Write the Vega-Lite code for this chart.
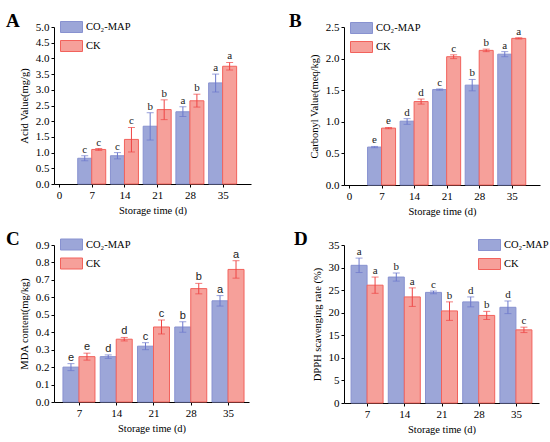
{
  "$schema": "https://vega.github.io/schema/vega-lite/v6.json",
  "padding": {"left": 6, "top": 12, "right": 5, "bottom": 5},
  "background": "white",
  "datasets": {
    "A": [
      {"day": 7, "group": "CO₂-MAP", "value": 0.82, "lo": 0.74, "hi": 0.90, "sig": "c"},
      {"day": 7, "group": "CK", "value": 1.10, "lo": 1.07, "hi": 1.13, "sig": "c"},
      {"day": 14, "group": "CO₂-MAP", "value": 0.90, "lo": 0.80, "hi": 1.00, "sig": "c"},
      {"day": 14, "group": "CK", "value": 1.42, "lo": 1.02, "hi": 1.80, "sig": "c"},
      {"day": 21, "group": "CO₂-MAP", "value": 1.84, "lo": 1.40, "hi": 2.27, "sig": "b"},
      {"day": 21, "group": "CK", "value": 2.37, "lo": 2.05, "hi": 2.68, "sig": "b"},
      {"day": 28, "group": "CO₂-MAP", "value": 2.30, "lo": 2.15, "hi": 2.46, "sig": "a"},
      {"day": 28, "group": "CK", "value": 2.65, "lo": 2.45, "hi": 2.86, "sig": "b"},
      {"day": 35, "group": "CO₂-MAP", "value": 3.22, "lo": 2.93, "hi": 3.50, "sig": "a"},
      {"day": 35, "group": "CK", "value": 3.75, "lo": 3.63, "hi": 3.87, "sig": "a"}
    ],
    "B": [
      {"day": 7, "group": "CO₂-MAP", "value": 0.60, "lo": 0.59, "hi": 0.61, "sig": "e"},
      {"day": 7, "group": "CK", "value": 0.90, "lo": 0.89, "hi": 0.91, "sig": "e"},
      {"day": 14, "group": "CO₂-MAP", "value": 1.01, "lo": 0.96, "hi": 1.05, "sig": "d"},
      {"day": 14, "group": "CK", "value": 1.32, "lo": 1.28, "hi": 1.36, "sig": "d"},
      {"day": 21, "group": "CO₂-MAP", "value": 1.51, "lo": 1.50, "hi": 1.52, "sig": "c"},
      {"day": 21, "group": "CK", "value": 2.03, "lo": 2.00, "hi": 2.06, "sig": "c"},
      {"day": 28, "group": "CO₂-MAP", "value": 1.58, "lo": 1.49, "hi": 1.67, "sig": "b"},
      {"day": 28, "group": "CK", "value": 2.13, "lo": 2.11, "hi": 2.15, "sig": "b"},
      {"day": 35, "group": "CO₂-MAP", "value": 2.07, "lo": 2.03, "hi": 2.11, "sig": "a"},
      {"day": 35, "group": "CK", "value": 2.32, "lo": 2.31, "hi": 2.33, "sig": "a"}
    ],
    "C": [
      {"day": 7, "group": "CO₂-MAP", "value": 0.20, "lo": 0.18, "hi": 0.22, "sig": "e"},
      {"day": 7, "group": "CK", "value": 0.26, "lo": 0.24, "hi": 0.28, "sig": "e"},
      {"day": 14, "group": "CO₂-MAP", "value": 0.26, "lo": 0.25, "hi": 0.27, "sig": "d"},
      {"day": 14, "group": "CK", "value": 0.36, "lo": 0.35, "hi": 0.37, "sig": "d"},
      {"day": 21, "group": "CO₂-MAP", "value": 0.32, "lo": 0.30, "hi": 0.34, "sig": "c"},
      {"day": 21, "group": "CK", "value": 0.43, "lo": 0.39, "hi": 0.47, "sig": "c"},
      {"day": 28, "group": "CO₂-MAP", "value": 0.43, "lo": 0.40, "hi": 0.46, "sig": "b"},
      {"day": 28, "group": "CK", "value": 0.65, "lo": 0.62, "hi": 0.68, "sig": "b"},
      {"day": 35, "group": "CO₂-MAP", "value": 0.58, "lo": 0.55, "hi": 0.61, "sig": "a"},
      {"day": 35, "group": "CK", "value": 0.76, "lo": 0.71, "hi": 0.81, "sig": "a"}
    ],
    "D": [
      {"day": 7, "group": "CO₂-MAP", "value": 30.5, "lo": 28.9, "hi": 32.1, "sig": "a"},
      {"day": 7, "group": "CK", "value": 26.1, "lo": 24.3, "hi": 27.9, "sig": "a"},
      {"day": 14, "group": "CO₂-MAP", "value": 27.9, "lo": 27.0, "hi": 28.8, "sig": "b"},
      {"day": 14, "group": "CK", "value": 23.5, "lo": 21.4, "hi": 25.5, "sig": "a"},
      {"day": 21, "group": "CO₂-MAP", "value": 24.5, "lo": 24.2, "hi": 24.8, "sig": "c"},
      {"day": 21, "group": "CK", "value": 20.4, "lo": 18.3, "hi": 22.4, "sig": "b"},
      {"day": 28, "group": "CO₂-MAP", "value": 22.4, "lo": 21.3, "hi": 23.5, "sig": "d"},
      {"day": 28, "group": "CK", "value": 19.4, "lo": 18.5, "hi": 20.3, "sig": "b"},
      {"day": 35, "group": "CO₂-MAP", "value": 21.2, "lo": 19.8, "hi": 22.6, "sig": "d"},
      {"day": 35, "group": "CK", "value": 16.2, "lo": 15.6, "hi": 16.8, "sig": "c"}
    ]
  },
  "columns": 2,
  "spacing": {"row": 60, "column": 93},
  "bounds": "flush",
  "resolve": {"scale": {"fill": "independent", "stroke": "independent", "x": "independent", "y": "independent"}, "legend": {"fill": "independent", "stroke": "independent"}},
  "concat": [
    {
      "width": 197, "height": 157,
      "title": {"text": "A", "dx": -48, "dy": 14},
      "data": {"name": "A"},
      "encoding": {"x": {"field": "day", "type": "quantitative", "title": "Storage time (d)", "scale": {"domain": [0, 40], "nice": false, "zero": false}, "axis": {"values": [0, 7, 14, 21, 28, 35], "labelFont": "Liberation Serif", "labelFontSize": 11, "titleFont": "Liberation Serif", "titleFontSize": 10.5, "titleFontWeight": "normal", "titlePadding": 5, "labelPadding": 2, "tickSize": 3}}},
      "layer": [
        {"transform": [{"filter": "datum.group === 'CO₂-MAP'"}], "mark": {"type": "bar", "width": 14, "xOffset": -7, "strokeWidth": 1},
         "encoding": {
           "y": {"field": "value", "type": "quantitative", "title": "Acid Value(mg/g)", "stack": null, "scale": {"domain": [0, 5], "nice": false}, "axis": {"values": [0, 0.5, 1, 1.5, 2, 2.5, 3, 3.5, 4, 4.5, 5], "format": ".1f", "labelFont": "Liberation Serif", "labelFontSize": 11, "titleFont": "Liberation Serif", "titleFontSize": 10.5, "titleFontWeight": "normal", "titlePadding": 6, "labelPadding": 2, "tickSize": 3}},
           "fill": {"field": "group", "type": "nominal", "scale": {"domain": ["CO₂-MAP", "CK"], "range": ["#9ca6d8", "#f6a09a"]}, "legend": {"title": null, "orient": "none", "legendX": 11.5, "legendY": -6}},
           "stroke": {"field": "group", "type": "nominal", "scale": {"domain": ["CO₂-MAP", "CK"], "range": ["#8892d0", "#f2625c"]}, "legend": {"title": null, "orient": "none", "legendX": 11.5, "legendY": -6}}}},
        {"transform": [{"filter": "datum.group === 'CK'"}], "mark": {"type": "bar", "width": 14, "xOffset": 7, "strokeWidth": 1},
         "encoding": {
           "y": {"field": "value", "type": "quantitative", "title": "Acid Value(mg/g)", "stack": null, "scale": {"domain": [0, 5], "nice": false}, "axis": {"values": [0, 0.5, 1, 1.5, 2, 2.5, 3, 3.5, 4, 4.5, 5], "format": ".1f", "labelFont": "Liberation Serif", "labelFontSize": 11, "titleFont": "Liberation Serif", "titleFontSize": 10.5, "titleFontWeight": "normal", "titlePadding": 6, "labelPadding": 2, "tickSize": 3}},
           "fill": {"field": "group", "type": "nominal"},
           "stroke": {"field": "group", "type": "nominal"}}},
        {"transform": [{"filter": "datum.group === 'CO₂-MAP'"}], "mark": {"type": "rule", "xOffset": -7, "color": "#6c78cc"},
         "encoding": {"y": {"field": "lo", "type": "quantitative", "title": "Acid Value(mg/g)", "scale": {"domain": [0, 5], "nice": false}, "axis": {"values": [0, 0.5, 1, 1.5, 2, 2.5, 3, 3.5, 4, 4.5, 5], "format": ".1f", "labelFont": "Liberation Serif", "labelFontSize": 11, "titleFont": "Liberation Serif", "titleFontSize": 10.5, "titleFontWeight": "normal", "titlePadding": 6, "labelPadding": 2, "tickSize": 3}}, "y2": {"field": "hi"}}},
        {"transform": [{"filter": "datum.group === 'CK'"}], "mark": {"type": "rule", "xOffset": 7, "color": "#ee4444"},
         "encoding": {"y": {"field": "lo", "type": "quantitative", "title": "Acid Value(mg/g)", "scale": {"domain": [0, 5], "nice": false}, "axis": {"values": [0, 0.5, 1, 1.5, 2, 2.5, 3, 3.5, 4, 4.5, 5], "format": ".1f", "labelFont": "Liberation Serif", "labelFontSize": 11, "titleFont": "Liberation Serif", "titleFontSize": 10.5, "titleFontWeight": "normal", "titlePadding": 6, "labelPadding": 2, "tickSize": 3}}, "y2": {"field": "hi"}}},
        {"transform": [{"filter": "datum.group === 'CO₂-MAP'"}, {"fold": ["lo", "hi"], "as": ["k", "v"]}], "mark": {"type": "tick", "orient": "horizontal", "xOffset": -7, "size": 7, "thickness": 1, "color": "#6c78cc"},
         "encoding": {"y": {"field": "v", "type": "quantitative", "title": "Acid Value(mg/g)", "scale": {"domain": [0, 5], "nice": false}, "axis": {"values": [0, 0.5, 1, 1.5, 2, 2.5, 3, 3.5, 4, 4.5, 5], "format": ".1f", "labelFont": "Liberation Serif", "labelFontSize": 11, "titleFont": "Liberation Serif", "titleFontSize": 10.5, "titleFontWeight": "normal", "titlePadding": 6, "labelPadding": 2, "tickSize": 3}}}},
        {"transform": [{"filter": "datum.group === 'CK'"}, {"fold": ["lo", "hi"], "as": ["k", "v"]}], "mark": {"type": "tick", "orient": "horizontal", "xOffset": 7, "size": 7, "thickness": 1, "color": "#ee4444"},
         "encoding": {"y": {"field": "v", "type": "quantitative", "title": "Acid Value(mg/g)", "scale": {"domain": [0, 5], "nice": false}, "axis": {"values": [0, 0.5, 1, 1.5, 2, 2.5, 3, 3.5, 4, 4.5, 5], "format": ".1f", "labelFont": "Liberation Serif", "labelFontSize": 11, "titleFont": "Liberation Serif", "titleFontSize": 10.5, "titleFontWeight": "normal", "titlePadding": 6, "labelPadding": 2, "tickSize": 3}}}},
        {"transform": [{"filter": "datum.group === 'CO₂-MAP'"}], "mark": {"type": "text", "xOffset": -7, "dy": -3, "baseline": "alphabetic", "font": "Liberation Serif", "fontSize": 11, "color": "#222"},
         "encoding": {"y": {"field": "hi", "type": "quantitative", "title": "Acid Value(mg/g)", "scale": {"domain": [0, 5], "nice": false}, "axis": {"values": [0, 0.5, 1, 1.5, 2, 2.5, 3, 3.5, 4, 4.5, 5], "format": ".1f", "labelFont": "Liberation Serif", "labelFontSize": 11, "titleFont": "Liberation Serif", "titleFontSize": 10.5, "titleFontWeight": "normal", "titlePadding": 6, "labelPadding": 2, "tickSize": 3}}, "text": {"field": "sig"}}},
        {"transform": [{"filter": "datum.group === 'CK'"}], "mark": {"type": "text", "xOffset": 7, "dy": -3, "baseline": "alphabetic", "font": "Liberation Serif", "fontSize": 11, "color": "#222"},
         "encoding": {"y": {"field": "hi", "type": "quantitative", "title": "Acid Value(mg/g)", "scale": {"domain": [0, 5], "nice": false}, "axis": {"values": [0, 0.5, 1, 1.5, 2, 2.5, 3, 3.5, 4, 4.5, 5], "format": ".1f", "labelFont": "Liberation Serif", "labelFontSize": 11, "titleFont": "Liberation Serif", "titleFontSize": 10.5, "titleFontWeight": "normal", "titlePadding": 6, "labelPadding": 2, "tickSize": 3}}, "text": {"field": "sig"}}}
      ]
    },
    {
      "width": 196, "height": 158,
      "title": {"text": "B", "dx": -55, "dy": 14},
      "data": {"name": "B"},
      "encoding": {"x": {"field": "day", "type": "quantitative", "title": "Storage time (d)", "scale": {"domain": [0, 40], "nice": false, "zero": false}, "axis": {"values": [0, 7, 14, 21, 28, 35], "labelFont": "Liberation Serif", "labelFontSize": 11, "titleFont": "Liberation Serif", "titleFontSize": 10.5, "titleFontWeight": "normal", "titlePadding": 5, "labelPadding": 2, "tickSize": 3}}},
      "layer": [
        {"transform": [{"filter": "datum.group === 'CO₂-MAP'"}], "mark": {"type": "bar", "width": 14, "xOffset": -7, "strokeWidth": 1},
         "encoding": {
           "y": {"field": "value", "type": "quantitative", "title": "Carbonyl Value(meq/kg)", "stack": null, "scale": {"domain": [0, 2.5], "nice": false}, "axis": {"values": [0, 0.5, 1, 1.5, 2, 2.5], "format": ".1f", "labelFont": "Liberation Serif", "labelFontSize": 11, "titleFont": "Liberation Serif", "titleFontSize": 10.5, "titleFontWeight": "normal", "titlePadding": 6, "labelPadding": 2, "tickSize": 3}},
           "fill": {"field": "group", "type": "nominal", "scale": {"domain": ["CO₂-MAP", "CK"], "range": ["#9ca6d8", "#f6a09a"]}, "legend": {"title": null, "orient": "none", "legendX": 11.5, "legendY": -5}},
           "stroke": {"field": "group", "type": "nominal", "scale": {"domain": ["CO₂-MAP", "CK"], "range": ["#8892d0", "#f2625c"]}, "legend": {"title": null, "orient": "none", "legendX": 11.5, "legendY": -5}}}},
        {"transform": [{"filter": "datum.group === 'CK'"}], "mark": {"type": "bar", "width": 14, "xOffset": 7, "strokeWidth": 1},
         "encoding": {
           "y": {"field": "value", "type": "quantitative", "title": "Carbonyl Value(meq/kg)", "stack": null, "scale": {"domain": [0, 2.5], "nice": false}, "axis": {"values": [0, 0.5, 1, 1.5, 2, 2.5], "format": ".1f", "labelFont": "Liberation Serif", "labelFontSize": 11, "titleFont": "Liberation Serif", "titleFontSize": 10.5, "titleFontWeight": "normal", "titlePadding": 6, "labelPadding": 2, "tickSize": 3}},
           "fill": {"field": "group", "type": "nominal"},
           "stroke": {"field": "group", "type": "nominal"}}},
        {"transform": [{"filter": "datum.group === 'CO₂-MAP'"}], "mark": {"type": "rule", "xOffset": -7, "color": "#6c78cc"},
         "encoding": {"y": {"field": "lo", "type": "quantitative", "title": "Carbonyl Value(meq/kg)", "scale": {"domain": [0, 2.5], "nice": false}, "axis": {"values": [0, 0.5, 1, 1.5, 2, 2.5], "format": ".1f", "labelFont": "Liberation Serif", "labelFontSize": 11, "titleFont": "Liberation Serif", "titleFontSize": 10.5, "titleFontWeight": "normal", "titlePadding": 6, "labelPadding": 2, "tickSize": 3}}, "y2": {"field": "hi"}}},
        {"transform": [{"filter": "datum.group === 'CK'"}], "mark": {"type": "rule", "xOffset": 7, "color": "#ee4444"},
         "encoding": {"y": {"field": "lo", "type": "quantitative", "title": "Carbonyl Value(meq/kg)", "scale": {"domain": [0, 2.5], "nice": false}, "axis": {"values": [0, 0.5, 1, 1.5, 2, 2.5], "format": ".1f", "labelFont": "Liberation Serif", "labelFontSize": 11, "titleFont": "Liberation Serif", "titleFontSize": 10.5, "titleFontWeight": "normal", "titlePadding": 6, "labelPadding": 2, "tickSize": 3}}, "y2": {"field": "hi"}}},
        {"transform": [{"filter": "datum.group === 'CO₂-MAP'"}, {"fold": ["lo", "hi"], "as": ["k", "v"]}], "mark": {"type": "tick", "orient": "horizontal", "xOffset": -7, "size": 7, "thickness": 1, "color": "#6c78cc"},
         "encoding": {"y": {"field": "v", "type": "quantitative", "title": "Carbonyl Value(meq/kg)", "scale": {"domain": [0, 2.5], "nice": false}, "axis": {"values": [0, 0.5, 1, 1.5, 2, 2.5], "format": ".1f", "labelFont": "Liberation Serif", "labelFontSize": 11, "titleFont": "Liberation Serif", "titleFontSize": 10.5, "titleFontWeight": "normal", "titlePadding": 6, "labelPadding": 2, "tickSize": 3}}}},
        {"transform": [{"filter": "datum.group === 'CK'"}, {"fold": ["lo", "hi"], "as": ["k", "v"]}], "mark": {"type": "tick", "orient": "horizontal", "xOffset": 7, "size": 7, "thickness": 1, "color": "#ee4444"},
         "encoding": {"y": {"field": "v", "type": "quantitative", "title": "Carbonyl Value(meq/kg)", "scale": {"domain": [0, 2.5], "nice": false}, "axis": {"values": [0, 0.5, 1, 1.5, 2, 2.5], "format": ".1f", "labelFont": "Liberation Serif", "labelFontSize": 11, "titleFont": "Liberation Serif", "titleFontSize": 10.5, "titleFontWeight": "normal", "titlePadding": 6, "labelPadding": 2, "tickSize": 3}}}},
        {"transform": [{"filter": "datum.group === 'CO₂-MAP'"}], "mark": {"type": "text", "xOffset": -7, "dy": -3, "baseline": "alphabetic", "font": "Liberation Serif", "fontSize": 11, "color": "#222"},
         "encoding": {"y": {"field": "hi", "type": "quantitative", "title": "Carbonyl Value(meq/kg)", "scale": {"domain": [0, 2.5], "nice": false}, "axis": {"values": [0, 0.5, 1, 1.5, 2, 2.5], "format": ".1f", "labelFont": "Liberation Serif", "labelFontSize": 11, "titleFont": "Liberation Serif", "titleFontSize": 10.5, "titleFontWeight": "normal", "titlePadding": 6, "labelPadding": 2, "tickSize": 3}}, "text": {"field": "sig"}}},
        {"transform": [{"filter": "datum.group === 'CK'"}], "mark": {"type": "text", "xOffset": 7, "dy": -3, "baseline": "alphabetic", "font": "Liberation Serif", "fontSize": 11, "color": "#222"},
         "encoding": {"y": {"field": "hi", "type": "quantitative", "title": "Carbonyl Value(meq/kg)", "scale": {"domain": [0, 2.5], "nice": false}, "axis": {"values": [0, 0.5, 1, 1.5, 2, 2.5], "format": ".1f", "labelFont": "Liberation Serif", "labelFontSize": 11, "titleFont": "Liberation Serif", "titleFontSize": 10.5, "titleFontWeight": "normal", "titlePadding": 6, "labelPadding": 2, "tickSize": 3}}, "text": {"field": "sig"}}}
      ]
    },
    {
      "width": 195, "height": 157,
      "title": {"text": "C", "dx": -48, "dy": 14},
      "data": {"name": "C"},
      "encoding": {"x": {"field": "day", "type": "quantitative", "title": "Storage time (d)", "scale": {"domain": [3.25, 38], "nice": false, "zero": false}, "axis": {"values": [7, 14, 21, 28, 35], "labelFont": "Liberation Serif", "labelFontSize": 11, "titleFont": "Liberation Serif", "titleFontSize": 10.5, "titleFontWeight": "normal", "titlePadding": 5, "labelPadding": 2, "tickSize": 3}}},
      "layer": [
        {"transform": [{"filter": "datum.group === 'CO₂-MAP'"}], "mark": {"type": "bar", "width": 16, "xOffset": -8, "strokeWidth": 1},
         "encoding": {
           "y": {"field": "value", "type": "quantitative", "title": "MDA content(mg/kg)", "stack": null, "scale": {"domain": [0, 0.9], "nice": false}, "axis": {"values": [0, 0.1, 0.2, 0.3, 0.4, 0.5, 0.6, 0.7, 0.8, 0.9], "format": ".1f", "labelFont": "Liberation Serif", "labelFontSize": 11, "titleFont": "Liberation Serif", "titleFontSize": 10.5, "titleFontWeight": "normal", "titlePadding": 6, "labelPadding": 2, "tickSize": 3}},
           "fill": {"field": "group", "type": "nominal", "scale": {"domain": ["CO₂-MAP", "CK"], "range": ["#9ca6d8", "#f6a09a"]}, "legend": {"title": null, "orient": "none", "legendX": 11.5, "legendY": -6.5}},
           "stroke": {"field": "group", "type": "nominal", "scale": {"domain": ["CO₂-MAP", "CK"], "range": ["#8892d0", "#f2625c"]}, "legend": {"title": null, "orient": "none", "legendX": 11.5, "legendY": -6.5}}}},
        {"transform": [{"filter": "datum.group === 'CK'"}], "mark": {"type": "bar", "width": 16, "xOffset": 8, "strokeWidth": 1},
         "encoding": {
           "y": {"field": "value", "type": "quantitative", "title": "MDA content(mg/kg)", "stack": null, "scale": {"domain": [0, 0.9], "nice": false}, "axis": {"values": [0, 0.1, 0.2, 0.3, 0.4, 0.5, 0.6, 0.7, 0.8, 0.9], "format": ".1f", "labelFont": "Liberation Serif", "labelFontSize": 11, "titleFont": "Liberation Serif", "titleFontSize": 10.5, "titleFontWeight": "normal", "titlePadding": 6, "labelPadding": 2, "tickSize": 3}},
           "fill": {"field": "group", "type": "nominal"},
           "stroke": {"field": "group", "type": "nominal"}}},
        {"transform": [{"filter": "datum.group === 'CO₂-MAP'"}], "mark": {"type": "rule", "xOffset": -8, "color": "#6c78cc"},
         "encoding": {"y": {"field": "lo", "type": "quantitative", "title": "MDA content(mg/kg)", "scale": {"domain": [0, 0.9], "nice": false}, "axis": {"values": [0, 0.1, 0.2, 0.3, 0.4, 0.5, 0.6, 0.7, 0.8, 0.9], "format": ".1f", "labelFont": "Liberation Serif", "labelFontSize": 11, "titleFont": "Liberation Serif", "titleFontSize": 10.5, "titleFontWeight": "normal", "titlePadding": 6, "labelPadding": 2, "tickSize": 3}}, "y2": {"field": "hi"}}},
        {"transform": [{"filter": "datum.group === 'CK'"}], "mark": {"type": "rule", "xOffset": 8, "color": "#ee4444"},
         "encoding": {"y": {"field": "lo", "type": "quantitative", "title": "MDA content(mg/kg)", "scale": {"domain": [0, 0.9], "nice": false}, "axis": {"values": [0, 0.1, 0.2, 0.3, 0.4, 0.5, 0.6, 0.7, 0.8, 0.9], "format": ".1f", "labelFont": "Liberation Serif", "labelFontSize": 11, "titleFont": "Liberation Serif", "titleFontSize": 10.5, "titleFontWeight": "normal", "titlePadding": 6, "labelPadding": 2, "tickSize": 3}}, "y2": {"field": "hi"}}},
        {"transform": [{"filter": "datum.group === 'CO₂-MAP'"}, {"fold": ["lo", "hi"], "as": ["k", "v"]}], "mark": {"type": "tick", "orient": "horizontal", "xOffset": -8, "size": 7, "thickness": 1, "color": "#6c78cc"},
         "encoding": {"y": {"field": "v", "type": "quantitative", "title": "MDA content(mg/kg)", "scale": {"domain": [0, 0.9], "nice": false}, "axis": {"values": [0, 0.1, 0.2, 0.3, 0.4, 0.5, 0.6, 0.7, 0.8, 0.9], "format": ".1f", "labelFont": "Liberation Serif", "labelFontSize": 11, "titleFont": "Liberation Serif", "titleFontSize": 10.5, "titleFontWeight": "normal", "titlePadding": 6, "labelPadding": 2, "tickSize": 3}}}},
        {"transform": [{"filter": "datum.group === 'CK'"}, {"fold": ["lo", "hi"], "as": ["k", "v"]}], "mark": {"type": "tick", "orient": "horizontal", "xOffset": 8, "size": 7, "thickness": 1, "color": "#ee4444"},
         "encoding": {"y": {"field": "v", "type": "quantitative", "title": "MDA content(mg/kg)", "scale": {"domain": [0, 0.9], "nice": false}, "axis": {"values": [0, 0.1, 0.2, 0.3, 0.4, 0.5, 0.6, 0.7, 0.8, 0.9], "format": ".1f", "labelFont": "Liberation Serif", "labelFontSize": 11, "titleFont": "Liberation Serif", "titleFontSize": 10.5, "titleFontWeight": "normal", "titlePadding": 6, "labelPadding": 2, "tickSize": 3}}}},
        {"transform": [{"filter": "datum.group === 'CO₂-MAP'"}], "mark": {"type": "text", "xOffset": -8, "dy": -3, "baseline": "alphabetic", "font": "Liberation Sans", "fontSize": 11, "color": "#222"},
         "encoding": {"y": {"field": "hi", "type": "quantitative", "title": "MDA content(mg/kg)", "scale": {"domain": [0, 0.9], "nice": false}, "axis": {"values": [0, 0.1, 0.2, 0.3, 0.4, 0.5, 0.6, 0.7, 0.8, 0.9], "format": ".1f", "labelFont": "Liberation Serif", "labelFontSize": 11, "titleFont": "Liberation Serif", "titleFontSize": 10.5, "titleFontWeight": "normal", "titlePadding": 6, "labelPadding": 2, "tickSize": 3}}, "text": {"field": "sig"}}},
        {"transform": [{"filter": "datum.group === 'CK'"}], "mark": {"type": "text", "xOffset": 8, "dy": -3, "baseline": "alphabetic", "font": "Liberation Sans", "fontSize": 11, "color": "#222"},
         "encoding": {"y": {"field": "hi", "type": "quantitative", "title": "MDA content(mg/kg)", "scale": {"domain": [0, 0.9], "nice": false}, "axis": {"values": [0, 0.1, 0.2, 0.3, 0.4, 0.5, 0.6, 0.7, 0.8, 0.9], "format": ".1f", "labelFont": "Liberation Serif", "labelFontSize": 11, "titleFont": "Liberation Serif", "titleFontSize": 10.5, "titleFontWeight": "normal", "titlePadding": 6, "labelPadding": 2, "tickSize": 3}}, "text": {"field": "sig"}}}
      ]
    },
    {
      "width": 195, "height": 158,
      "title": {"text": "D", "dx": -50, "dy": 14},
      "data": {"name": "D"},
      "encoding": {"x": {"field": "day", "type": "quantitative", "title": "Storage time (d)", "scale": {"domain": [3.6, 38.4], "nice": false, "zero": false}, "axis": {"values": [7, 14, 21, 28, 35], "labelFont": "Liberation Serif", "labelFontSize": 11, "titleFont": "Liberation Serif", "titleFontSize": 10.5, "titleFontWeight": "normal", "titlePadding": 5, "labelPadding": 2, "tickSize": 3}}},
      "layer": [
        {"transform": [{"filter": "datum.group === 'CO₂-MAP'"}], "mark": {"type": "bar", "width": 16, "xOffset": -8, "strokeWidth": 1},
         "encoding": {
           "y": {"field": "value", "type": "quantitative", "title": "DPPH scavenging rate (%)", "stack": null, "scale": {"domain": [0, 35], "nice": false}, "axis": {"values": [0, 5, 10, 15, 20, 25, 30, 35], "labelFont": "Liberation Serif", "labelFontSize": 11, "titleFont": "Liberation Serif", "titleFontSize": 10.5, "titleFontWeight": "normal", "titlePadding": 6, "labelPadding": 2, "tickSize": 3}},
           "fill": {"field": "group", "type": "nominal", "scale": {"domain": ["CO₂-MAP", "CK"], "range": ["#9ca6d8", "#f6a09a"]}, "legend": {"title": null, "orient": "none", "legendX": 139.5, "legendY": -6}},
           "stroke": {"field": "group", "type": "nominal", "scale": {"domain": ["CO₂-MAP", "CK"], "range": ["#8892d0", "#f2625c"]}, "legend": {"title": null, "orient": "none", "legendX": 139.5, "legendY": -6}}}},
        {"transform": [{"filter": "datum.group === 'CK'"}], "mark": {"type": "bar", "width": 16, "xOffset": 8, "strokeWidth": 1},
         "encoding": {
           "y": {"field": "value", "type": "quantitative", "title": "DPPH scavenging rate (%)", "stack": null, "scale": {"domain": [0, 35], "nice": false}, "axis": {"values": [0, 5, 10, 15, 20, 25, 30, 35], "labelFont": "Liberation Serif", "labelFontSize": 11, "titleFont": "Liberation Serif", "titleFontSize": 10.5, "titleFontWeight": "normal", "titlePadding": 6, "labelPadding": 2, "tickSize": 3}},
           "fill": {"field": "group", "type": "nominal"},
           "stroke": {"field": "group", "type": "nominal"}}},
        {"transform": [{"filter": "datum.group === 'CO₂-MAP'"}], "mark": {"type": "rule", "xOffset": -8, "color": "#6c78cc"},
         "encoding": {"y": {"field": "lo", "type": "quantitative", "title": "DPPH scavenging rate (%)", "scale": {"domain": [0, 35], "nice": false}, "axis": {"values": [0, 5, 10, 15, 20, 25, 30, 35], "labelFont": "Liberation Serif", "labelFontSize": 11, "titleFont": "Liberation Serif", "titleFontSize": 10.5, "titleFontWeight": "normal", "titlePadding": 6, "labelPadding": 2, "tickSize": 3}}, "y2": {"field": "hi"}}},
        {"transform": [{"filter": "datum.group === 'CK'"}], "mark": {"type": "rule", "xOffset": 8, "color": "#ee4444"},
         "encoding": {"y": {"field": "lo", "type": "quantitative", "title": "DPPH scavenging rate (%)", "scale": {"domain": [0, 35], "nice": false}, "axis": {"values": [0, 5, 10, 15, 20, 25, 30, 35], "labelFont": "Liberation Serif", "labelFontSize": 11, "titleFont": "Liberation Serif", "titleFontSize": 10.5, "titleFontWeight": "normal", "titlePadding": 6, "labelPadding": 2, "tickSize": 3}}, "y2": {"field": "hi"}}},
        {"transform": [{"filter": "datum.group === 'CO₂-MAP'"}, {"fold": ["lo", "hi"], "as": ["k", "v"]}], "mark": {"type": "tick", "orient": "horizontal", "xOffset": -8, "size": 7, "thickness": 1, "color": "#6c78cc"},
         "encoding": {"y": {"field": "v", "type": "quantitative", "title": "DPPH scavenging rate (%)", "scale": {"domain": [0, 35], "nice": false}, "axis": {"values": [0, 5, 10, 15, 20, 25, 30, 35], "labelFont": "Liberation Serif", "labelFontSize": 11, "titleFont": "Liberation Serif", "titleFontSize": 10.5, "titleFontWeight": "normal", "titlePadding": 6, "labelPadding": 2, "tickSize": 3}}}},
        {"transform": [{"filter": "datum.group === 'CK'"}, {"fold": ["lo", "hi"], "as": ["k", "v"]}], "mark": {"type": "tick", "orient": "horizontal", "xOffset": 8, "size": 7, "thickness": 1, "color": "#ee4444"},
         "encoding": {"y": {"field": "v", "type": "quantitative", "title": "DPPH scavenging rate (%)", "scale": {"domain": [0, 35], "nice": false}, "axis": {"values": [0, 5, 10, 15, 20, 25, 30, 35], "labelFont": "Liberation Serif", "labelFontSize": 11, "titleFont": "Liberation Serif", "titleFontSize": 10.5, "titleFontWeight": "normal", "titlePadding": 6, "labelPadding": 2, "tickSize": 3}}}},
        {"transform": [{"filter": "datum.group === 'CO₂-MAP'"}], "mark": {"type": "text", "xOffset": -8, "dy": -3, "baseline": "alphabetic", "font": "Liberation Serif", "fontSize": 11, "color": "#222"},
         "encoding": {"y": {"field": "hi", "type": "quantitative", "title": "DPPH scavenging rate (%)", "scale": {"domain": [0, 35], "nice": false}, "axis": {"values": [0, 5, 10, 15, 20, 25, 30, 35], "labelFont": "Liberation Serif", "labelFontSize": 11, "titleFont": "Liberation Serif", "titleFontSize": 10.5, "titleFontWeight": "normal", "titlePadding": 6, "labelPadding": 2, "tickSize": 3}}, "text": {"field": "sig"}}},
        {"transform": [{"filter": "datum.group === 'CK'"}], "mark": {"type": "text", "xOffset": 8, "dy": -3, "baseline": "alphabetic", "font": "Liberation Serif", "fontSize": 11, "color": "#222"},
         "encoding": {"y": {"field": "hi", "type": "quantitative", "title": "DPPH scavenging rate (%)", "scale": {"domain": [0, 35], "nice": false}, "axis": {"values": [0, 5, 10, 15, 20, 25, 30, 35], "labelFont": "Liberation Serif", "labelFontSize": 11, "titleFont": "Liberation Serif", "titleFontSize": 10.5, "titleFontWeight": "normal", "titlePadding": 6, "labelPadding": 2, "tickSize": 3}}, "text": {"field": "sig"}}}
      ]
    }
  ],
  "config": {
    "view": {"stroke": null},
    "font": "Liberation Serif",
    "title": {"font": "Liberation Serif", "fontSize": 19, "fontWeight": "bold", "color": "black", "anchor": "start", "frame": "group", "offset": 0, "baseline": "alphabetic"},
    "axis": {"labelColor": "black", "titleColor": "black", "domainColor": "black", "tickColor": "black", "grid": false},
    "axisX": {"labelAngle": 0},
    "legend": {"symbolType": "M-2,-1H2V1H-2Z", "symbolSize": 121, "symbolStrokeWidth": 1, "labelFont": "Liberation Serif", "labelFontSize": 10.5, "labelColor": "black", "labelOffset": 8.5, "rowPadding": 3, "padding": 0}
  }
}
